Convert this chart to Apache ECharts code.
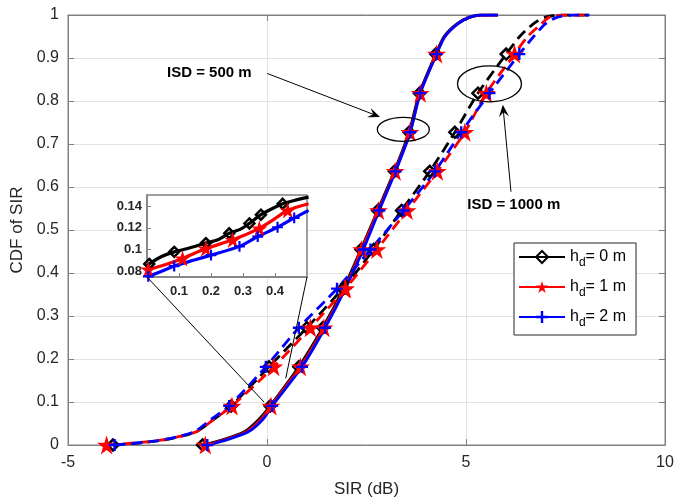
<!DOCTYPE html>
<html><head><meta charset="utf-8">
<script src="https://cdn.jsdelivr.net/npm/echarts@6/dist/echarts.min.js"></script>
<style>html,body{margin:0;padding:0;background:#fff}#c{width:675px;height:501px}</style>
</head><body><div id="c"></div>
<script>
// CDF levels shared by all curves (markers drawn where markerFlags = 1)
const levels      = [0, 0.01, 0.03, 0.06, 0.0909, 0.1818, 0.2727, 0.3636, 0.4545, 0.5455, 0.6364, 0.7273, 0.8182, 0.9091, 0.95, 0.98, 0.995, 1.0, 1.0];
const markerFlags = [1, 0,    0,    0,    1,      1,      1,      1,      1,      1,      1,      1,      1,      1,      0,    0,    0,     0,   0];

// ISD = 500 m (solid)
const sir500_h0 = [-1.62, -1.18, -0.58, -0.2, 0.08, 0.80, 1.40, 1.92, 2.36, 2.78, 3.20, 3.57, 3.83, 4.24, 4.45, 4.78, 5.1, 5.4, 5.8];
const sir500_h1 = [-1.55, -1.13, -0.53, -0.15, 0.10, 0.84, 1.43, 1.95, 2.38, 2.80, 3.22, 3.59, 3.85, 4.26, 4.47, 4.80, 5.1, 5.4, 5.8];
const sir500_h2 = [-1.50, -1.08, -0.48, -0.1, 0.13, 0.88, 1.46, 1.97, 2.42, 2.82, 3.23, 3.60, 3.85, 4.26, 4.47, 4.80, 5.1, 5.4, 5.8];
// ISD = 1000 m (dashed)
const sir1000_h0 = [-3.87, -2.7, -1.8, -1.33, -0.90, 0.05, 1.00, 1.90, 2.68, 3.38, 4.09, 4.72, 5.30, 6.01, 6.35, 6.7, 7.0, 7.4, 8.1];
const sir1000_h1 = [-4.03, -2.75, -1.8, -1.33, -0.88, 0.17, 1.09, 1.97, 2.76, 3.52, 4.28, 4.97, 5.51, 6.22, 6.55, 6.9, 7.1, 7.5, 8.05];
const sir1000_h2 = [-3.83, -2.75, -1.85, -1.40, -0.95, -0.03, 0.80, 1.76, 2.60, 3.43, 4.22, 4.88, 5.59, 6.34, 6.70, 7.0, 7.3, 7.7, 8.1];

// Inset (zoom of ISD = 500 m near x in [0, 0.5])
const inset_h0 = [[0.0,0.085],[0.007,0.087],[0.044,0.0935],[0.085,0.098],[0.127,0.101],[0.184,0.106],[0.221,0.109],[0.257,0.115],[0.294,0.119],[0.32,0.124],[0.356,0.132],[0.3875,0.137],[0.424,0.142],[0.46,0.145],[0.505,0.148]];
const inset_h0_mk = [0,1,0,1,0,1,0,1,0,1,1,0,1,0,0];
const inset_h1 = [[0.0,0.0815],[0.004,0.082],[0.044,0.085],[0.111,0.092],[0.184,0.101],[0.268,0.109],[0.351,0.1195],[0.398,0.128],[0.44,0.136],[0.505,0.142]];
const inset_h1_mk = [0,1,0,1,1,1,1,0,1,0];
const inset_h2 = [[0.0,0.0752],[0.004,0.0755],[0.044,0.08],[0.085,0.085],[0.148,0.0905],[0.2,0.095],[0.289,0.103],[0.346,0.112],[0.408,0.1205],[0.46,0.129],[0.505,0.136]];
const inset_h2_mk = [0,1,0,1,0,1,1,1,1,1,0];

const xTicks = [-5, 0, 5, 10];
const insetXTicks = [0.1, 0.2, 0.3, 0.4];
const insetYTicks = [0.08, 0.1, 0.12, 0.14];
const seriesNames = ['hd0', 'hd1', 'hd2'];
const legendNums = {hd0: '0', hd1: '1', hd2: '2'};

const STAR = 'path://M50,0 L61.2,34.5 L97.6,34.5 L68.2,55.9 L79.4,90.5 L50,69.1 L20.6,90.5 L31.8,55.9 L2.4,34.5 L38.8,34.5 Z';
const PLUS = 'path://M4,0 L6,0 L6,4 L10,4 L10,6 L6,6 L6,10 L4,10 L4,6 L0,6 L0,4 L4,4 Z';

const styles = [
  {color: '#000000', symbol: 'diamond', size: 11, item: {color: 'rgba(255,255,255,0)', borderColor: '#000', borderWidth: 2.5}},
  {color: '#ff0000', symbol: STAR, size: 19, item: {color: '#ff0000'}},
  {color: '#0000ff', symbol: PLUS, size: 12, item: {color: '#0000ff'}}
];

function cdfData(xs) {
  return xs.map((x, i) => markerFlags[i] ? [x, levels[i]] : {value: [x, levels[i]], symbol: 'none'});
}
function insetData(pts, mk) {
  return pts.map((p, i) => mk[i] ? p : {value: p, symbol: 'none'});
}
function mkSeries(k, data, dashed, grid, sizeScale) {
  const s = styles[k];
  return {
    type: 'line', name: seriesNames[k], data: data,
    xAxisIndex: grid ? 2 : 0, yAxisIndex: grid ? 2 : 0,
    symbol: s.symbol, symbolSize: s.size * (sizeScale || 1), showSymbol: true, showAllSymbol: true,
    smooth: 0.25, color: s.color,
    lineStyle: {color: s.color, width: grid ? 3.2 : 2.8, type: dashed ? [11, 6] : 'solid'},
    itemStyle: s.item, emphasis: {disabled: true}, animation: false, clip: true
  };
}

const axisCol = '#808080', txtCol = '#262626';
const chart = echarts.init(document.getElementById('c'), null, {renderer: 'canvas'});
const option = {
  animation: false,
  backgroundColor: '#ffffff',
  grid: [
    {left: 68, right: 10, top: 15, bottom: 56, containLabel: false, outerBoundsMode: 'none', show: true, borderColor: axisCol, borderWidth: 1, backgroundColor: '#fff'},
    {left: 147, top: 195, width: 160, height: 82, containLabel: false, outerBoundsMode: 'none', show: true, borderColor: axisCol, borderWidth: 1.5, backgroundColor: '#fff', z: 5}
  ],
  xAxis: [
    {type: 'value', gridIndex: 0, min: -5, max: 10, interval: 5, name: 'SIR (dB)', nameLocation: 'middle', nameGap: 36,
     nameTextStyle: {fontFamily: 'Liberation Sans, Arial', fontSize: 17, color: txtCol},
     axisLine: {show: true, onZero: false, lineStyle: {color: axisCol}}, axisTick: {show: true, inside: true, length: 6, lineStyle: {color: axisCol}},
     axisLabel: {fontFamily: 'Liberation Sans, Arial', fontSize: 16, color: txtCol, margin: 10},
     splitLine: {show: true, lineStyle: {color: '#e3e3e3', width: 1}}},
    {type: 'value', gridIndex: 0, position: 'top', min: -5, max: 10, interval: 5,
     axisLine: {show: true, onZero: false, lineStyle: {color: axisCol}}, axisTick: {show: true, inside: true, length: 6, lineStyle: {color: axisCol}},
     axisLabel: {show: false}, splitLine: {show: false}},
    {type: 'value', gridIndex: 1, min: 0, max: 0.5, z: 6,
     axisLine: {show: true, onZero: false, lineStyle: {color: axisCol, width: 1.5}},
     axisTick: {show: true, inside: true, length: 4, customValues: insetXTicks, lineStyle: {color: axisCol}},
     axisLabel: {customValues: insetXTicks, fontFamily: 'Liberation Sans, Arial', fontWeight: 'bold', fontSize: 13, color: txtCol, margin: 8},
     splitLine: {show: false}}
  ],
  yAxis: [
    {type: 'value', gridIndex: 0, min: 0, max: 1, interval: 0.1, name: 'CDF of SIR', nameLocation: 'middle', nameGap: 34,
     nameTextStyle: {fontFamily: 'Liberation Sans, Arial', fontSize: 17, color: txtCol},
     axisLine: {show: true, onZero: false, lineStyle: {color: axisCol}}, axisTick: {show: true, inside: true, length: 6, lineStyle: {color: axisCol}},
     axisLabel: {fontFamily: 'Liberation Sans, Arial', fontSize: 16, color: txtCol, margin: 9},
     splitLine: {show: true, lineStyle: {color: '#e3e3e3', width: 1}}},
    {type: 'value', gridIndex: 0, position: 'right', min: 0, max: 1, interval: 0.1,
     axisLine: {show: true, onZero: false, lineStyle: {color: axisCol}}, axisTick: {show: true, inside: true, length: 6, lineStyle: {color: axisCol}},
     axisLabel: {show: false}, splitLine: {show: false}},
    {type: 'value', gridIndex: 1, min: 0.075, max: 0.15, z: 6,
     axisLine: {show: true, onZero: false, lineStyle: {color: axisCol, width: 1.5}},
     axisTick: {show: true, inside: true, length: 4, customValues: insetYTicks, lineStyle: {color: axisCol}},
     axisLabel: {customValues: insetYTicks, fontFamily: 'Liberation Sans, Arial', fontWeight: 'bold', fontSize: 13, color: txtCol, margin: 5},
     splitLine: {show: false}}
  ],
  legend: {
    data: seriesNames, orient: 'vertical', left: 514, top: 243, width: 122,
    padding: [6, 10, 6, 4], itemGap: 10, itemWidth: 46, itemHeight: 15,
    borderColor: '#262626', borderWidth: 1, backgroundColor: '#fff',
    selectedMode: false,
    formatter: n => '{a|h}{s|d}{a|= ' + legendNums[n] + ' m}',
    textStyle: {
      color: '#000', fontFamily: 'Liberation Sans, Arial', fontSize: 16,
      rich: {a: {fontSize: 16, fontFamily: 'Liberation Sans, Arial', color: '#000'},
             s: {fontSize: 12, fontFamily: 'Liberation Sans, Arial', color: '#000', padding: [12, 0, 0, 0]}}
    }
  },
  series: [
    mkSeries(0, cdfData(sir500_h0), false),
    mkSeries(1, cdfData(sir500_h1), false),
    mkSeries(2, cdfData(sir500_h2), false),
    mkSeries(0, cdfData(sir1000_h0), true),
    mkSeries(1, cdfData(sir1000_h1), true),
    mkSeries(2, cdfData(sir1000_h2), true),
    Object.assign(mkSeries(0, insetData(inset_h0, inset_h0_mk), false, 1, 0.9), {z: 7}),
    Object.assign(mkSeries(1, insetData(inset_h1, inset_h1_mk), false, 1, 0.85), {z: 7}),
    Object.assign(mkSeries(2, insetData(inset_h2, inset_h2_mk), false, 1, 0.9), {z: 7})
  ]
};
chart.setOption(option);

// annotations (anchored in data coordinates)
function px(x, y, g) { return chart.convertToPixel({gridIndex: g || 0}, [x, y]); }
function arrow(a, b) {
  const dx = b[0] - a[0], dy = b[1] - a[1], L = Math.hypot(dx, dy);
  const ux = dx / L, uy = dy / L, nx = -uy, ny = ux, hl = 12, hw = 5;
  return [
    {type: 'line', z: 20, shape: {x1: a[0], y1: a[1], x2: b[0] - ux * 6, y2: b[1] - uy * 6}, style: {stroke: '#000', lineWidth: 1}},
    {type: 'polygon', z: 20, shape: {points: [b, [b[0] - ux * hl + nx * hw, b[1] - uy * hl + ny * hw], [b[0] - ux * hl * 0.6, b[1] - uy * hl * 0.6], [b[0] - ux * hl - nx * hw, b[1] - uy * hl - ny * hw]]}, style: {fill: '#000'}}
  ];
}
const t1 = px(-1.45, 0.865), a1s = px(0.0075, 0.864), a1e = px(2.84, 0.763), e1 = px(3.425, 0.734);
const t2 = px(6.2, 0.558), a2s = px(6.13, 0.589), a2e = px(5.925, 0.791), e2 = px(5.59, 0.84);
const zoomPt1 = px(-0.075, 0.1), zoomPt2 = px(0.47, 0.155);
const ic1 = px(0, 0.075, 1), ic2 = px(0.5, 0.075, 1);
const fontB = 'bold 15px "Liberation Sans", Arial';
chart.setOption({graphic: [
  {type: 'text', z: 20, x: t1[0], y: t1[1], style: {text: 'ISD = 500 m', font: fontB, fill: '#000', align: 'center', verticalAlign: 'middle'}},
  {type: 'text', z: 20, x: t2[0], y: t2[1], style: {text: 'ISD = 1000 m', font: fontB, fill: '#000', align: 'center', verticalAlign: 'middle'}},
  ...arrow(a1s, a1e), ...arrow(a2s, a2e),
  {type: 'ellipse', z: 20, shape: {cx: e1[0], cy: e1[1], rx: 26, ry: 12}, style: {fill: 'none', stroke: '#000', lineWidth: 1.3}},
  {type: 'ellipse', z: 20, shape: {cx: e2[0], cy: e2[1], rx: 32, ry: 18}, style: {fill: 'none', stroke: '#000', lineWidth: 1.3}},
  {type: 'line', z: 20, shape: {x1: ic1[0], y1: ic1[1], x2: zoomPt1[0], y2: zoomPt1[1]}, style: {stroke: '#000', lineWidth: 1}},
  {type: 'line', z: 20, shape: {x1: ic2[0], y1: ic2[1], x2: zoomPt2[0], y2: zoomPt2[1]}, style: {stroke: '#000', lineWidth: 1}}
]});
</script></body></html>
